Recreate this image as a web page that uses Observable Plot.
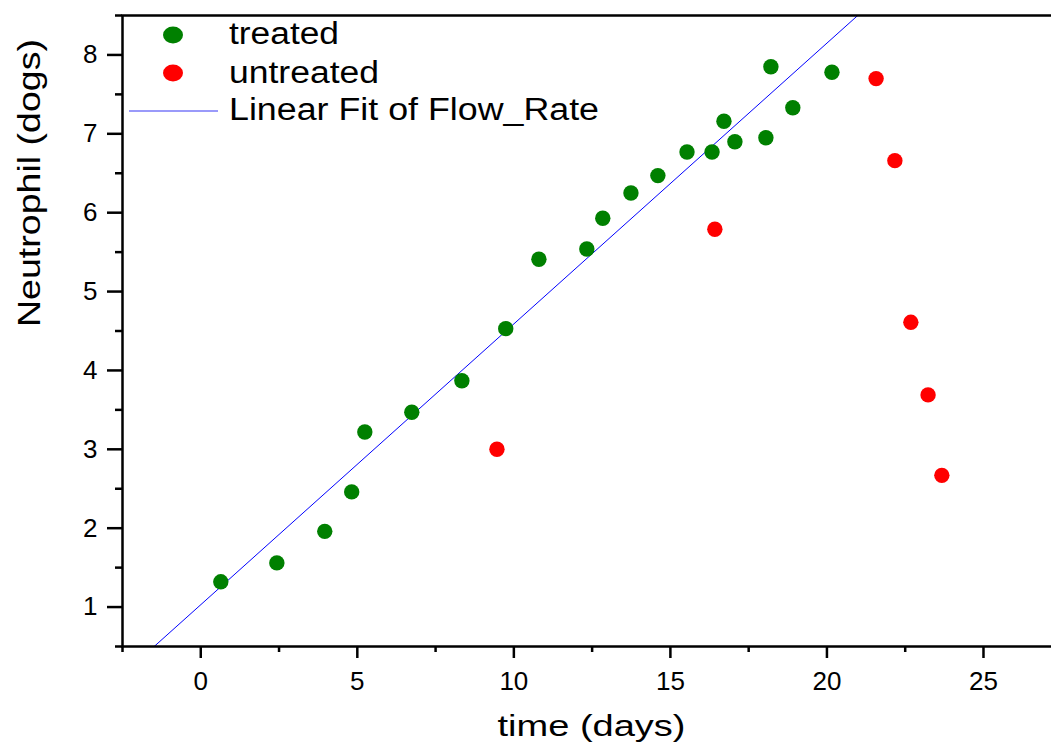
<!DOCTYPE html>
<html><head><meta charset="utf-8">
<script src="https://cdn.jsdelivr.net/npm/d3@7"></script>
<script src="https://cdn.jsdelivr.net/npm/@observablehq/plot@0.6"></script>
<style>
html,body{margin:0;padding:0;background:#fff;overflow:hidden}
#wrap{width:1051px;height:747px;overflow:hidden}
#wrap svg{max-width:none !important;height:747px !important;width:1060px !important}
</style></head><body><div id="wrap"></div>
<script>
// ---- data ----
const treatedX = [0.64, 2.43, 3.96, 4.82, 5.24, 6.74, 8.34, 9.74, 10.8, 12.33, 12.84, 13.74, 14.6, 15.53, 16.33, 16.71, 17.06, 18.05, 18.21, 18.91, 20.16];
const treatedY = [1.32, 1.56, 1.96, 2.46, 3.22, 3.47, 3.87, 4.53, 5.41, 5.54, 5.93, 6.25, 6.47, 6.77, 6.77, 7.16, 6.90, 6.95, 7.85, 7.33, 7.78];
const untreatedX = [9.46, 16.42, 21.57, 22.17, 22.68, 23.23, 23.67];
const untreatedY = [3.00, 5.79, 7.70, 6.66, 4.61, 3.69, 2.67];
const fitIntercept = 1.03;
const fitSlope = 0.356;
const xMajorTicks = [0, 5, 10, 15, 20, 25];
const xMinorTicks = [-2.5, 2.5, 7.5, 12.5, 17.5, 22.5];
const yMajorTicks = [1, 2, 3, 4, 5, 6, 7, 8];
const yMinorTicks = [0.5, 1.5, 2.5, 3.5, 4.5, 5.5, 6.5, 7.5, 8.5];
const seriesNames = ["treated", "untreated", "Linear Fit of Flow_Rate"];
const xLabel = "time (days)";
const yLabel = "Neutrophil (dogs)";

// ---- layout ----
const W = 1060, H = 747;
const mL = 122, mT = 15, mB = 101, mR = 0;
const xDomain = [-2.5, 27.46];
const yDomain = [0.5, 8.5];
const green = "#008000", red = "#ff0000", blue = "#0000ff";
const font = "'Liberation Sans', Arial, sans-serif";

const treated = treatedX.map((x, i) => ({x, y: treatedY[i]}));
const untreated = untreatedX.map((x, i) => ({x, y: untreatedY[i]}));
const fit = xDomain.map(x => ({x, y: fitIntercept + fitSlope * x}));

const chart = Plot.plot({
  width: W, height: H,
  marginLeft: mL, marginTop: mT, marginBottom: mB, marginRight: mR,
  style: {fontFamily: font, fontSize: "26px", color: "#000", background: "#fff", maxWidth: "none"},
  x: {domain: xDomain},
  y: {domain: yDomain},
  marks: [
    Plot.line(fit, {x: "x", y: "y", stroke: blue, strokeWidth: 1, clip: true}),
    Plot.dot(treated, {x: "x", y: "y", r: 7.7, fill: green}),
    Plot.dot(untreated, {x: "x", y: "y", r: 7.7, fill: red}),
    Plot.frame({stroke: "#000", strokeWidth: 2.5}),
    Plot.axisX(xMajorTicks, {tickSize: 12, tickPadding: 13, strokeWidth: 2.5, label: null, tickFormat: d => String(d)}),
    Plot.axisX(xMinorTicks, {tickSize: 6, strokeWidth: 2.5, label: null, tickFormat: () => ""}),
    Plot.axisY(yMajorTicks, {tickSize: 15, tickPadding: 10, strokeWidth: 2.5, label: null, tickFormat: d => String(d)}),
    Plot.axisY(yMinorTicks, {tickSize: 7, strokeWidth: 2.5, label: null, tickFormat: () => ""}),
    Plot.text([xLabel], {frameAnchor: "bottom", dy: 89, text: d => d, fontSize: 30, fill: "#000"}),
    Plot.text([yLabel], {frameAnchor: "left", dx: -92, dy: -4, rotate: -90, text: d => d, fontSize: 31, fill: "#000"})
  ]
});

// stretch axis titles to the reference's widths
d3.select(chart).selectAll("text").each(function() {
  const t = this.textContent;
  if (t === xLabel) { this.setAttribute("textLength", 188); this.setAttribute("lengthAdjust", "spacingAndGlyphs"); }
  if (t === yLabel) { this.setAttribute("textLength", 288); this.setAttribute("lengthAdjust", "spacingAndGlyphs"); }
});

// legend inside the frame, top-left
const svg = d3.select(chart);
const lg = svg.append("g").attr("font-family", font).attr("font-size", 31).attr("fill", "#000").attr("text-anchor", "start");
lg.append("ellipse").attr("cx", mL + 51).attr("cy", mT + 20).attr("rx", 10).attr("ry", 8.5).attr("fill", green);
lg.append("ellipse").attr("cx", mL + 51).attr("cy", mT + 58).attr("rx", 10).attr("ry", 8.5).attr("fill", red);
lg.append("line").attr("x1", mL + 7).attr("x2", mL + 96).attr("y1", mT + 96).attr("y2", mT + 96)
  .attr("stroke", "#7878f8").attr("stroke-width", 1.3);
const legendWidths = [110, 150, 370];
const legendBase = [29, 68, 105];
seriesNames.forEach((s, i) => {
  lg.append("text").attr("x", mL + 107).attr("y", mT + legendBase[i]).attr("text-anchor", "start").text(s)
    .attr("textLength", legendWidths[i]).attr("lengthAdjust", "spacingAndGlyphs");
});

document.getElementById("wrap").appendChild(chart);
</script>
</body></html>
